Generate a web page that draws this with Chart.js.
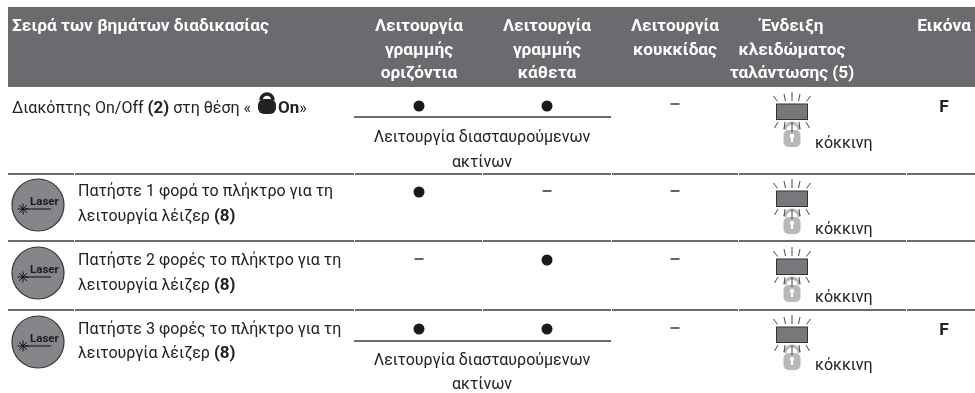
<!DOCTYPE html>
<html>
<head>
<meta charset="utf-8">
<title>Σειρά των βημάτων διαδικασίας</title>
<script src="https://cdn.jsdelivr.net/npm/chart.js@4/dist/chart.umd.min.js"></script>
<style>
  html, body { margin: 0; padding: 0; background: #fff; }
  canvas { display: block; }
</style>
</head>
<body>
<canvas id="table" width="975" height="393"></canvas>
<script>
// table content
const headers = [
  ["Λειτουργία", "γραμμής", "οριζόντια"],
  ["Λειτουργία", "γραμμής", "κάθετα"],
  ["Λειτουργία", "κουκκίδας"],
  ["Ένδειξη", "κλειδώματος", "ταλάντωσης (5)"],
  ["Εικόνα"]
];
const firstHeader = "Σειρά των βημάτων διαδικασίας";
const pressSteps = ["Πατήστε 1 φορά το πλήκτρο για τη", "Πατήστε 2 φορές το πλήκτρο για τη", "Πατήστε 3 φορές το πλήκτρο για τη"];
const pressEnd = "λειτουργία λέιζερ ";
const crossMode = ["Λειτουργία διασταυρούμενων", "ακτίνων"];
const indicator = "κόκκινη";

// 1 = mode on (dot), 0 = mode off (dash)
const lineHorizontal = [1, 1, 0, 1];
const lineVertical = [1, 0, 1, 1];
const pointMode = [0, 0, 0, 0];
const figure = ["F", "", "", "F"];

// layout, in canvas units
const colX = [419, 547, 675, 792, 944];
const dotY = [106, 192, 260, 329];
const dashY = [104, 191, 259, 328];
const rectTop = [104, 191, 259, 327];
const sepY = [174, 241, 310];
const sepX = [[8, 74], [75, 354], [355, 482], [483, 611], [612, 738], [739, 906], [907, 975]];
const crossRows = [[117, 142, 167], [341, 365, 389]];
const buttonY = [205, 273, 342];
const pressY = [[196, 221], [265, 290], [334, 358]];
const redY = [148, 234, 302, 370];
const figY = [112, 0, 0, 335];

const textColor = "#222";
const FONT = "Roboto, sans-serif";
const BODY_SIZE = "16px ";
const BOLD_SIZE = "bold 17px ";
const HEAD_SIZE = "bold 17.3px ";

function makeIcon() {
  const c = document.createElement("canvas");
  c.width = 50; c.height = 60;
  const g = c.getContext("2d");
  const cx = 25, top = 12; // top is the rectangle top edge
  // lock
  g.fillStyle = "#b7b8ba";
  g.beginPath();
  g.roundRect(cx - 8.5, top + 26, 17, 17, 5);
  g.fill();
  g.strokeStyle = "#b7b8ba";
  g.lineWidth = 3;
  g.beginPath();
  g.arc(cx, top + 26, 7, Math.PI, 0);
  g.stroke();
  g.fillStyle = "#fff";
  g.beginPath();
  g.arc(cx, top + 32, 2.2, 0, Math.PI * 2);
  g.fill();
  g.fillRect(cx - 1, top + 32, 2, 6);
  // lamp
  g.fillStyle = "#77787b";
  g.fillRect(cx - 15.5, top, 31, 15.5);
  g.strokeStyle = "#333";
  g.lineWidth = 1;
  g.strokeRect(cx - 15.5, top, 31, 15.5);
  // rays
  const rays = [
    [0, -12, 0, -3], [-8, -10, -6.5, -3], [8, -10, 6.5, -3], [-18.5, -8, -14.5, -2.5], [18.5, -8, 14.5, -2.5],
    [-14, 18, -17.5, 24], [14, 18, 17.5, 24], [-7, 18, -8, 25], [7, 18, 8, 25], [0, 18, 0, 28]
  ];
  g.strokeStyle = "#333";
  g.lineWidth = 0.9;
  rays.forEach(r => {
    g.beginPath();
    g.moveTo(cx + r[0], top + r[1]);
    g.lineTo(cx + r[2], top + r[3]);
    g.stroke();
  });
  return c;
}

function makeButton() {
  const c = document.createElement("canvas");
  c.width = 60; c.height = 60;
  const g = c.getContext("2d");
  g.fillStyle = "#85868a";
  g.strokeStyle = "#333";
  g.lineWidth = 1.2;
  g.beginPath();
  g.arc(30, 30, 26, 0, Math.PI * 2);
  g.fill();
  g.stroke();
  g.fillStyle = "#1c1c1c";
  g.font = "bold 11.5px " + FONT;
  g.textAlign = "left";
  g.fillText("Laser", 22, 30);
  g.strokeStyle = "#111";
  g.lineWidth = 1;
  g.beginPath();
  g.moveTo(17, 34);
  g.lineTo(43, 34);
  g.stroke();
  for (let i = 0; i < 4; i++) {
    const a = i * Math.PI / 4;
    g.beginPath();
    g.moveTo(15 - Math.cos(a) * 5.5, 34 - Math.sin(a) * 5.5);
    g.lineTo(15 + Math.cos(a) * 5.5, 34 + Math.sin(a) * 5.5);
    g.stroke();
  }
  return c;
}

// dot where the mode is on, dash where it is off
function modePoints(values, col, on) {
  const out = [];
  values.forEach((v, r) => {
    if (!!v === on) out.push({ x: colX[col], y: on ? dotY[r] : dashY[r] });
  });
  return out;
}

const dots = modePoints(lineHorizontal, 0, true).concat(modePoints(lineVertical, 1, true), modePoints(pointMode, 2, true));
const dashes = modePoints(lineHorizontal, 0, false).concat(modePoints(lineVertical, 1, false), modePoints(pointMode, 2, false));

function runs(ctx, x, y, parts) {
  parts.forEach(p => {
    ctx.font = (p.bold ? BOLD_SIZE : BODY_SIZE) + FONT;
    ctx.fillText(p.text, x, y);
    x += ctx.measureText(p.text).width;
  });
  return x;
}

const tablePlugin = {
  id: "tablePlugin",
  beforeDatasetsDraw(chart) {
    const ctx = chart.ctx;
    const X = v => chart.scales.x.getPixelForValue(v);
    const Y = v => chart.scales.y.getPixelForValue(v);
    ctx.save();
    ctx.fillStyle = "#6a6b6e";
    ctx.fillRect(X(8), Y(7), X(975) - X(8), Y(87) - Y(7));
    ctx.strokeStyle = "#3a3a3a";
    ctx.lineWidth = 1.5;
    sepY.forEach(y => {
      sepX.forEach(s => {
        ctx.beginPath();
        ctx.moveTo(X(s[0]), Y(y));
        ctx.lineTo(X(s[1]), Y(y));
        ctx.stroke();
      });
    });
    crossRows.forEach(c => {
      ctx.beginPath();
      ctx.moveTo(X(354), Y(c[0]));
      ctx.lineTo(X(611), Y(c[0]));
      ctx.stroke();
    });
    ctx.restore();
  },
  afterDatasetsDraw(chart) {
    const ctx = chart.ctx;
    const X = v => chart.scales.x.getPixelForValue(v);
    const Y = v => chart.scales.y.getPixelForValue(v);
    ctx.save();
    ctx.textBaseline = "alphabetic";

    // header
    ctx.fillStyle = "#fff";
    ctx.font = HEAD_SIZE + FONT;
    ctx.textAlign = "left";
    ctx.fillText(firstHeader, X(12), Y(31));
    ctx.textAlign = "center";
    headers.forEach((lines, c) => {
      lines.forEach((t, i) => ctx.fillText(t, X(colX[c]), Y(31 + i * 23.5)));
    });

    ctx.fillStyle = textColor;
    // first row, with the small lock symbol
    ctx.textAlign = "left";
    runs(ctx, X(12), Y(113), [
      { text: "Διακόπτης On/Off " },
      { text: "(2)", bold: true },
      { text: " στη θέση «" }
    ]);
    ctx.beginPath();
    ctx.roundRect(X(258), Y(99), 18, 15, 6);
    ctx.fill();
    ctx.lineWidth = 3.5;
    ctx.strokeStyle = textColor;
    ctx.beginPath();
    ctx.arc(X(267), Y(100), 6, Math.PI, 0);
    ctx.stroke();
    runs(ctx, X(278), Y(113), [{ text: "On", bold: true }, { text: "»" }]);

    // button rows
    pressSteps.forEach((t, i) => {
      runs(ctx, X(78), Y(pressY[i][0]), [{ text: t }]);
      runs(ctx, X(78), Y(pressY[i][1]), [{ text: pressEnd }, { text: "(8)", bold: true }]);
    });

    // merged cross mode cells
    ctx.textAlign = "center";
    ctx.font = BODY_SIZE + FONT;
    crossRows.forEach(c => {
      ctx.fillText(crossMode[0], X(482), Y(c[1]));
      ctx.fillText(crossMode[1], X(482), Y(c[2]));
    });

    // indicator colour and figure column
    ctx.textAlign = "left";
    redY.forEach(y => ctx.fillText(indicator, X(815), Y(y)));
    ctx.textAlign = "center";
    ctx.font = HEAD_SIZE + FONT;
    figure.forEach((t, r) => { if (t) ctx.fillText(t, X(colX[4]), Y(figY[r])); });
    ctx.restore();
  }
};

new Chart(document.getElementById("table"), {
  type: "scatter",
  data: {
    datasets: [
      { label: "on", data: dots, pointStyle: "circle", radius: 5.5, backgroundColor: "#1a1a1a", borderWidth: 0 },
      { label: "off", data: dashes, pointStyle: "line", radius: 4.5, borderColor: "#333", borderWidth: 1.5 },
      { label: "indicator", data: rectTop.map(y => ({ x: colX[3], y: y + 18 })), pointStyle: makeIcon(), radius: 30, clip: false },
      { label: "button", data: buttonY.map(y => ({ x: 38, y: y })), pointStyle: makeButton(), radius: 30, clip: false }
    ]
  },
  options: {
    responsive: false,
    animation: false,
    layout: { padding: 0, autoPadding: false },
    events: [],
    scales: {
      x: { type: "linear", min: 0, max: 975, display: false },
      y: { type: "linear", min: 0, max: 393, reverse: true, display: false }
    },
    plugins: { legend: { display: false }, tooltip: { enabled: false } }
  },
  plugins: [tablePlugin]
});
</script>
</body>
</html>
